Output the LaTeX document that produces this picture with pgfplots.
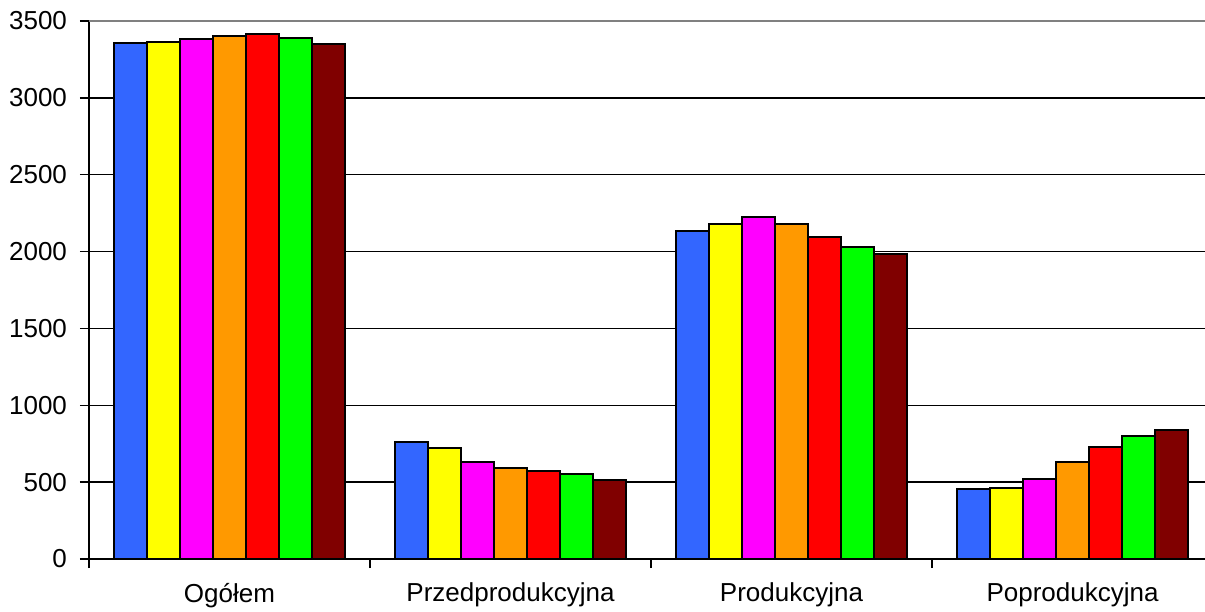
\documentclass[border=0pt]{standalone}
\usepackage{pgfplots}
\pgfplotsset{compat=1.18}
\usepackage{fontspec}
\setmainfont{Liberation Sans}

\definecolor{c1}{HTML}{3366FF}
\definecolor{c2}{HTML}{FFFF00}
\definecolor{c3}{HTML}{FF00FF}
\definecolor{c4}{HTML}{FF9900}
\definecolor{c5}{HTML}{FF0000}
\definecolor{c6}{HTML}{00FF00}
\definecolor{c7}{HTML}{800000}

\begin{document}
\begin{tikzpicture}
\useasboundingbox (-44.5pt,-26pt) rectangle (558pt,279.5pt);
\begin{axis}[
  at={(0,0)}, anchor=south west,
  width=562pt, height=269pt, scale only axis,
  ybar=0pt,
  bar width=0.1178,
  xmin=-0.5, xmax=3.5,
  ymin=0, ymax=3500,
  ytick={0,500,...,3000},
  extra y ticks={3500},
  extra y tick style={grid style={gray, line width=0.8pt}},
  ymajorgrids,
  grid style={black, line width=0.7pt},
  xtick={0,1,2,3},
  xticklabels={Ogółem, Przedprodukcyjna, Produkcyjna, Poprodukcyjna},
  minor xtick={-0.5,0.5,1.5,2.5},
  major x tick style={draw=none},
  axis x line*=bottom,
  axis y line*=left,
  axis line style={line width=0.8pt},
  tick align=outside,
  tick style={black, line width=0.7pt},
  major tick length=4.5pt,
  minor tick length=4.5pt,
  font=\fontsize{13}{15}\selectfont,
  ticklabel style={font=\fontsize{13}{15}\selectfont},
  yticklabel style={xshift=-3pt},
  xticklabel style={yshift=-4pt},
  /pgf/number format/assume math mode=true,
  /pgf/number format/1000 sep={},
  every axis plot/.append style={draw=black, line width=1pt},
  clip=false,
]
\addplot[fill=c1] coordinates {(0,3360) (1,763) (2,2132) (3,455)};
\addplot[fill=c2] coordinates {(0,3366) (1,720) (2,2178) (3,460)};
\addplot[fill=c3] coordinates {(0,3384) (1,633) (2,2227) (3,519)};
\addplot[fill=c4] coordinates {(0,3404) (1,594) (2,2178) (3,629)};
\addplot[fill=c5] coordinates {(0,3413) (1,574) (2,2097) (3,727)};
\addplot[fill=c6] coordinates {(0,3390) (1,553) (2,2028) (3,800)};
\addplot[fill=c7] coordinates {(0,3348) (1,514) (2,1984) (3,841)};
\end{axis}
\end{tikzpicture}
\end{document}
